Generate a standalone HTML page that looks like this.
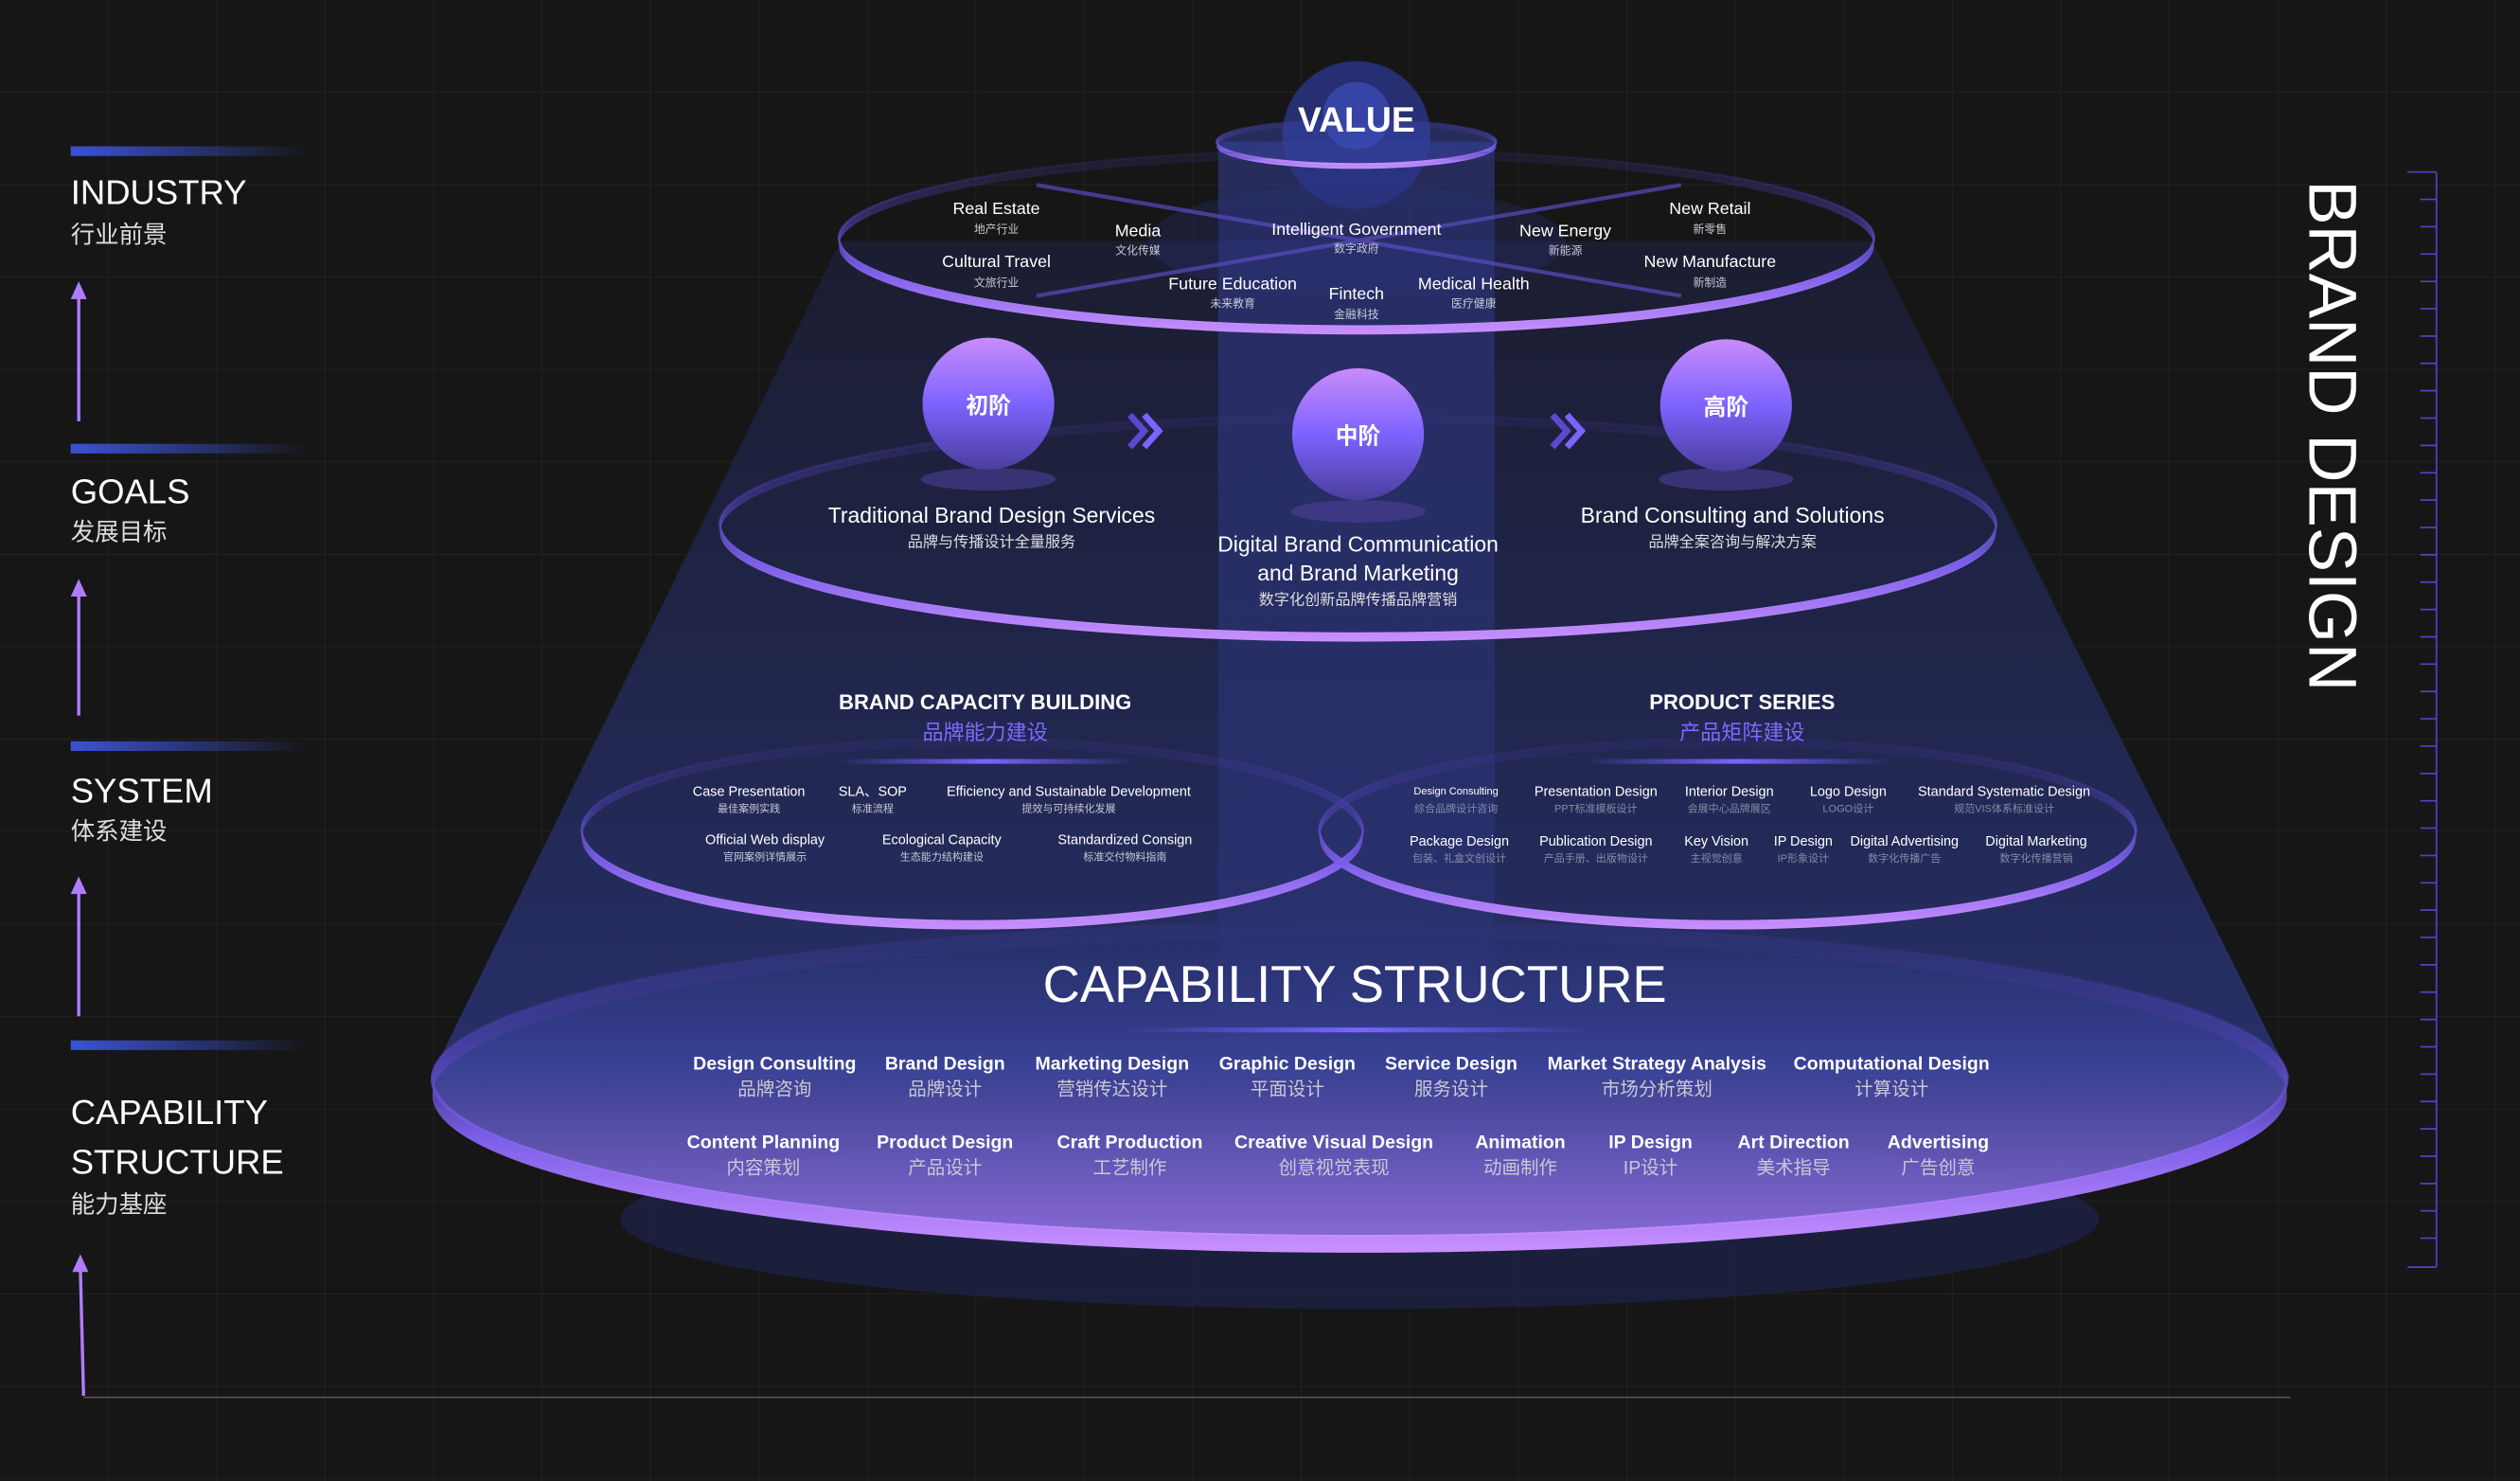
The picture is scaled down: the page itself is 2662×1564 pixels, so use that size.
<!DOCTYPE html>
<html><head><meta charset="utf-8"><style>
html,body{margin:0;padding:0;background:#161616;}
svg{display:block}
text{font-family:"Liberation Sans","Noto Sans CJK SC",sans-serif;text-anchor:middle;fill:#fff}
.cn{fill:#c9c9d6}
.l{text-anchor:start}
</style></head><body>
<svg width="2662" height="1564" viewBox="0 0 1568 921" preserveAspectRatio="none" xmlns="http://www.w3.org/2000/svg">
<defs>
<pattern id="grid" width="67.5" height="57.5" patternUnits="userSpaceOnUse"><path d="M67.5 0V57.5M0 57.5H67.5" stroke="#222" stroke-width="1" fill="none"/></pattern>
<linearGradient id="beam" x1="0" y1="0" x2="0" y2="1"><stop offset="0" stop-color="#1b1d30"/><stop offset="0.5" stop-color="#20254a"/><stop offset="1" stop-color="#28306a"/></linearGradient>
<linearGradient id="ring" x1="0" y1="0" x2="0" y2="1"><stop offset="0" stop-color="#3a3480" stop-opacity="0.15"/><stop offset="0.35" stop-color="#4a3ea8" stop-opacity="0.5"/><stop offset="0.65" stop-color="#7a5ee8"/><stop offset="1" stop-color="#c990ff"/></linearGradient>
<linearGradient id="cap" x1="0" y1="0" x2="0" y2="1"><stop offset="0" stop-color="#26306c" stop-opacity="0.6"/><stop offset="0.45" stop-color="#3a4298"/><stop offset="1" stop-color="#8f6fe0"/></linearGradient>
<linearGradient id="sph" x1="0" y1="0" x2="0" y2="1"><stop offset="0" stop-color="#c88cfa"/><stop offset="0.5" stop-color="#7d63ff"/><stop offset="1" stop-color="#4a3e9c"/></linearGradient>
<linearGradient id="bar" x1="0" y1="0" x2="1" y2="0"><stop offset="0" stop-color="#3b52d6"/><stop offset="1" stop-color="#3b52d6" stop-opacity="0"/></linearGradient>
<linearGradient id="ul" x1="0" y1="0" x2="1" y2="0"><stop offset="0" stop-color="#6a5cff" stop-opacity="0"/><stop offset="0.5" stop-color="#7a66ff"/><stop offset="1" stop-color="#6a5cff" stop-opacity="0"/></linearGradient>
<linearGradient id="col" x1="0" y1="0" x2="0" y2="1"><stop offset="0" stop-color="#3a46b0" stop-opacity="0.45"/><stop offset="1" stop-color="#3a46b0" stop-opacity="0.15"/></linearGradient>
</defs>
<rect width="1568" height="921" fill="#161616"/>
<rect width="1568" height="921" fill="url(#grid)"/>

<!-- left labels -->
<rect x="44" y="91" width="148" height="6" fill="url(#bar)"/>
<text class="l" x="44" y="127" font-size="21.5">INDUSTRY</text>
<text class="l cn" x="44" y="151" font-size="15" style="fill:#ddd">行业前景</text>
<rect x="44" y="276" width="148" height="6" fill="url(#bar)"/>
<text class="l" x="44" y="313" font-size="21.5">GOALS</text>
<text class="l cn" x="44" y="336" font-size="15" style="fill:#ddd">发展目标</text>
<rect x="44" y="461" width="148" height="6" fill="url(#bar)"/>
<text class="l" x="44" y="499" font-size="21.5">SYSTEM</text>
<text class="l cn" x="44" y="522" font-size="15" style="fill:#ddd">体系建设</text>
<rect x="44" y="647" width="148" height="6" fill="url(#bar)"/>
<text class="l" x="44" y="699" font-size="21.5">CAPABILITY</text>
<text class="l" x="44" y="730" font-size="21.5">STRUCTURE</text>
<text class="l cn" x="44" y="754" font-size="15" style="fill:#ddd">能力基座</text>
<g stroke="#b07cff" stroke-width="2"><line x1="49" y1="184" x2="49" y2="262"/><line x1="49" y1="369" x2="49" y2="445"/><line x1="49" y1="554" x2="49" y2="632"/><line x1="50" y1="789" x2="52" y2="868"/></g>
<g fill="#b07cff"><path d="M44 186L49 175L54 186Z"/><path d="M44 371L49 360L54 371Z"/><path d="M44 556L49 545L54 556Z"/><path d="M45 791L50 780L55 791Z"/></g>
<line x1="52" y1="869" x2="1425" y2="869" stroke="#555" stroke-width="1"/>

<!-- right -->
<text transform="translate(1437,112) rotate(90)" class="l" x="0" y="0" font-size="42" textLength="318" lengthAdjust="spacingAndGlyphs">BRAND DESIGN</text>
<line x1="1516" y1="107" x2="1516" y2="788" stroke="#4b45c8" stroke-width="1"/>
<g stroke="#4b45c8" stroke-width="1">
<line x1="1498" y1="107" x2="1516" y2="107"/><line x1="1506" y1="124" x2="1516" y2="124"/><line x1="1506" y1="141" x2="1516" y2="141"/><line x1="1506" y1="158" x2="1516" y2="158"/><line x1="1506" y1="175" x2="1516" y2="175"/><line x1="1506" y1="192" x2="1516" y2="192"/><line x1="1506" y1="209" x2="1516" y2="209"/><line x1="1506" y1="226" x2="1516" y2="226"/><line x1="1506" y1="243" x2="1516" y2="243"/><line x1="1506" y1="260" x2="1516" y2="260"/><line x1="1506" y1="277" x2="1516" y2="277"/><line x1="1506" y1="294" x2="1516" y2="294"/><line x1="1506" y1="311" x2="1516" y2="311"/><line x1="1506" y1="328" x2="1516" y2="328"/><line x1="1506" y1="345" x2="1516" y2="345"/><line x1="1506" y1="362" x2="1516" y2="362"/><line x1="1506" y1="379" x2="1516" y2="379"/><line x1="1506" y1="396" x2="1516" y2="396"/><line x1="1506" y1="413" x2="1516" y2="413"/><line x1="1506" y1="430" x2="1516" y2="430"/><line x1="1506" y1="447" x2="1516" y2="447"/><line x1="1506" y1="464" x2="1516" y2="464"/><line x1="1506" y1="481" x2="1516" y2="481"/><line x1="1506" y1="498" x2="1516" y2="498"/><line x1="1506" y1="515" x2="1516" y2="515"/><line x1="1506" y1="532" x2="1516" y2="532"/><line x1="1506" y1="549" x2="1516" y2="549"/><line x1="1506" y1="566" x2="1516" y2="566"/><line x1="1506" y1="583" x2="1516" y2="583"/><line x1="1506" y1="600" x2="1516" y2="600"/><line x1="1506" y1="617" x2="1516" y2="617"/><line x1="1506" y1="634" x2="1516" y2="634"/><line x1="1506" y1="651" x2="1516" y2="651"/><line x1="1506" y1="668" x2="1516" y2="668"/><line x1="1506" y1="685" x2="1516" y2="685"/><line x1="1506" y1="702" x2="1516" y2="702"/><line x1="1506" y1="719" x2="1516" y2="719"/><line x1="1506" y1="736" x2="1516" y2="736"/><line x1="1506" y1="753" x2="1516" y2="753"/><line x1="1506" y1="770" x2="1516" y2="770"/><line x1="1498" y1="788" x2="1516" y2="788"/>
</g>

<!-- beam and base -->
<ellipse cx="846" cy="758" rx="460" ry="56" fill="#1c2040" opacity="0.9"/>
<polygon points="523,150 1165,150 1425,670 268,670" fill="url(#beam)"/>
<rect x="758" y="88" width="172" height="560" fill="url(#col)"/>

<!-- dome / value -->
<circle cx="844" cy="84" r="46" fill="#2b3688" opacity="0.8"/>
<circle cx="844" cy="72" r="21" fill="#3c4cb8" opacity="0.75"/>
<ellipse cx="844" cy="88" rx="87" ry="14" fill="#3a4ab0" fill-opacity="0.45"/>
<path fill-rule="evenodd" fill="url(#ring)" d="M757,91 a87,14 0 1,0 174,0 a87,14 0 1,0 -174,0Z M757,88 a87,14 0 1,0 174,0 a87,14 0 1,0 -174,0Z"/>
<ellipse cx="844" cy="88" rx="87" ry="14" fill="none" stroke="url(#ring)" stroke-width="1.2"/>
<text x="844" y="82" font-size="22" font-weight="bold">VALUE</text>

<!-- industry ellipse -->
<ellipse cx="844" cy="150" rx="130" ry="35" fill="#2a3278" opacity="0.3"/>
<g stroke="#5a4cc0" stroke-width="2.5" opacity="0.7"><line x1="645" y1="115" x2="1046" y2="184"/><line x1="645" y1="184" x2="1046" y2="115"/></g>
<ellipse cx="844" cy="148" rx="322" ry="55" fill="none" stroke="url(#ring)" stroke-width="1.5"/>
<path fill-rule="evenodd" fill="url(#ring)" d="M522,153 a322,55 0 1,0 644,0 a322,55 0 1,0 -644,0Z M522,148 a322,55 0 1,0 644,0 a322,55 0 1,0 -644,0Z"/>
<g font-size="10.5">
<text x="620" y="133">Real Estate</text><text x="620" y="166">Cultural Travel</text><text x="708" y="147">Media</text>
<text x="844" y="146">Intelligent Government</text><text x="767" y="180">Future Education</text><text x="844" y="186">Fintech</text>
<text x="917" y="180">Medical Health</text><text x="974" y="147">New Energy</text><text x="1064" y="133">New Retail</text><text x="1064" y="166">New Manufacture</text>
</g>
<g font-size="7">
<text class="cn" x="620" y="145">地产行业</text><text class="cn" x="620" y="178">文旅行业</text><text class="cn" x="708" y="158">文化传媒</text>
<text class="cn" x="844" y="157">数字政府</text><text class="cn" x="767" y="191">未来教育</text><text class="cn" x="844" y="198">金融科技</text>
<text class="cn" x="917" y="191">医疗健康</text><text class="cn" x="974" y="158">新能源</text><text class="cn" x="1064" y="145">新零售</text><text class="cn" x="1064" y="178">新制造</text>
</g>

<!-- stage ellipse -->
<ellipse cx="845" cy="326" rx="397" ry="68" fill="none" stroke="url(#ring)" stroke-width="1.5"/>
<path fill-rule="evenodd" fill="url(#ring)" d="M448,331 a397,68 0 1,0 794,0 a397,68 0 1,0 -794,0Z M448,326 a397,68 0 1,0 794,0 a397,68 0 1,0 -794,0Z"/>
<g fill="#4b3f9a" opacity="0.6"><ellipse cx="615" cy="298" rx="42" ry="7"/><ellipse cx="845" cy="318" rx="42" ry="7"/><ellipse cx="1074" cy="298" rx="42" ry="7"/></g>
<circle cx="615" cy="251" r="41" fill="url(#sph)"/>
<circle cx="845" cy="270" r="41" fill="url(#sph)"/>
<circle cx="1074" cy="252" r="41" fill="url(#sph)"/>
<text x="615" y="257" font-size="14" font-weight="bold">初阶</text>
<text x="845" y="276" font-size="14" font-weight="bold">中阶</text>
<text x="1074" y="258" font-size="14" font-weight="bold">高阶</text>
<g fill="none" stroke-width="4"><path d="M703 258l9 10l-9 10" stroke="#5b4ad0"/><path d="M712 258l9 10l-9 10" stroke="#7d63ff"/><path d="M966 258l9 10l-9 10" stroke="#5b4ad0"/><path d="M975 258l9 10l-9 10" stroke="#7d63ff"/></g>
<text x="617" y="325" font-size="13.5">Traditional Brand Design Services</text>
<text class="cn" x="617" y="340" font-size="9.5" style="fill:#ddd">品牌与传播设计全量服务</text>
<text x="845" y="343" font-size="13.5">Digital Brand Communication</text>
<text x="845" y="361" font-size="13.5">and Brand  Marketing</text>
<text class="cn" x="845" y="376" font-size="9.5" style="fill:#ddd">数字化创新品牌传播品牌营销</text>
<text x="1078" y="325" font-size="13.5">Brand Consulting and Solutions</text>
<text class="cn" x="1078" y="340" font-size="9.5" style="fill:#ddd">品牌全案咨询与解决方案</text>

<!-- system ellipses -->
<ellipse cx="605" cy="516" rx="243" ry="57" fill="none" stroke="url(#ring)" stroke-width="1.5"/>
<path fill-rule="evenodd" fill="url(#ring)" d="M362,521 a243,57 0 1,0 486,0 a243,57 0 1,0 -486,0Z M362,516 a243,57 0 1,0 486,0 a243,57 0 1,0 -486,0Z"/>
<ellipse cx="1075" cy="516" rx="254" ry="57" fill="none" stroke="url(#ring)" stroke-width="1.5"/>
<path fill-rule="evenodd" fill="url(#ring)" d="M821,521 a254,57 0 1,0 508,0 a254,57 0 1,0 -508,0Z M821,516 a254,57 0 1,0 508,0 a254,57 0 1,0 -508,0Z"/>
<text x="613" y="441" font-size="13" font-weight="bold">BRAND CAPACITY BUILDING</text>
<text x="613" y="460" font-size="13" style="fill:#7b6bff">品牌能力建设</text>
<text x="1084" y="441" font-size="13" font-weight="bold">PRODUCT SERIES</text>
<text x="1084" y="460" font-size="13" style="fill:#7b6bff">产品矩阵建设</text>
<rect x="521" y="472" width="186" height="3" fill="url(#ul)"/>
<rect x="985" y="472" width="193" height="3" fill="url(#ul)"/>
<g font-size="8.5">
<text x="466" y="495">Case Presentation</text><text x="543" y="495">SLA、SOP</text><text x="665" y="495">Efficiency and Sustainable Development</text>
<text x="476" y="525">Official Web display</text><text x="586" y="525">Ecological Capacity</text><text x="700" y="525">Standardized Consign</text>
<text x="906" y="494" font-size="6.5">Design Consulting</text><text x="993" y="495">Presentation Design</text><text x="1076" y="495">Interior Design</text><text x="1150" y="495">Logo Design</text><text x="1247" y="495">Standard Systematic Design</text>
<text x="908" y="526">Package Design</text><text x="993" y="526">Publication Design</text><text x="1068" y="526">Key Vision</text><text x="1122" y="526">IP Design</text><text x="1185" y="526">Digital Advertising</text><text x="1267" y="526">Digital Marketing</text>
</g>
<g font-size="6.5">
<text class="cn" x="466" y="505">最佳案例实践</text><text class="cn" x="543" y="505">标准流程</text><text class="cn" x="665" y="505">提效与可持续化发展</text>
<text class="cn" x="476" y="535">官网案例详情展示</text><text class="cn" x="586" y="535">生态能力结构建设</text><text class="cn" x="700" y="535">标准交付物料指南</text>
<g style="opacity:0.6"><text class="cn" x="906" y="505">综合品牌设计咨询</text><text class="cn" x="993" y="505">PPT标准模板设计</text><text class="cn" x="1076" y="505">会展中心品牌展区</text><text class="cn" x="1150" y="505">LOGO设计</text><text class="cn" x="1247" y="505">规范VIS体系标准设计</text>
<text class="cn" x="908" y="536">包装、礼盒文创设计</text><text class="cn" x="993" y="536">产品手册、出版物设计</text><text class="cn" x="1068" y="536">主视觉创意</text><text class="cn" x="1122" y="536">IP形象设计</text><text class="cn" x="1185" y="536">数字化传播广告</text><text class="cn" x="1267" y="536">数字化传播营销</text></g>
</g>

<!-- capability -->
<ellipse cx="846" cy="671" rx="577" ry="98" fill="url(#cap)" opacity="0.92"/>
<ellipse cx="846" cy="671" rx="577" ry="98" fill="none" stroke="url(#ring)" stroke-width="2"/>
<path fill-rule="evenodd" fill="url(#ring)" d="M269,681 a577,98 0 1,0 1154,0 a577,98 0 1,0 -1154,0Z M269,671 a577,98 0 1,0 1154,0 a577,98 0 1,0 -1154,0Z"/>
<text x="843" y="623" font-size="32">CAPABILITY STRUCTURE</text>
<rect x="700" y="639" width="290" height="3" fill="url(#ul)"/>
<g font-size="11.5" font-weight="bold">
<text x="482" y="665">Design Consulting</text><text x="588" y="665">Brand Design</text><text x="692" y="665">Marketing Design</text><text x="801" y="665">Graphic Design</text><text x="903" y="665">Service Design</text><text x="1031" y="665">Market Strategy Analysis</text><text x="1177" y="665">Computational Design</text>
<text x="475" y="714">Content Planning</text><text x="588" y="714">Product  Design</text><text x="703" y="714">Craft Production</text><text x="830" y="714">Creative Visual Design</text><text x="946" y="714">Animation</text><text x="1027" y="714">IP Design</text><text x="1116" y="714">Art Direction</text><text x="1206" y="714">Advertising</text>
</g>
<g font-size="11.5">
<text class="cn" x="482" y="681">品牌咨询</text><text class="cn" x="588" y="681">品牌设计</text><text class="cn" x="692" y="681">营销传达设计</text><text class="cn" x="801" y="681">平面设计</text><text class="cn" x="903" y="681">服务设计</text><text class="cn" x="1031" y="681">市场分析策划</text><text class="cn" x="1177" y="681">计算设计</text>
<text class="cn" x="475" y="730">内容策划</text><text class="cn" x="588" y="730">产品设计</text><text class="cn" x="703" y="730">工艺制作</text><text class="cn" x="830" y="730">创意视觉表现</text><text class="cn" x="946" y="730">动画制作</text><text class="cn" x="1027" y="730">IP设计</text><text class="cn" x="1116" y="730">美术指导</text><text class="cn" x="1206" y="730">广告创意</text>
</g>
</svg>
</body></html>
